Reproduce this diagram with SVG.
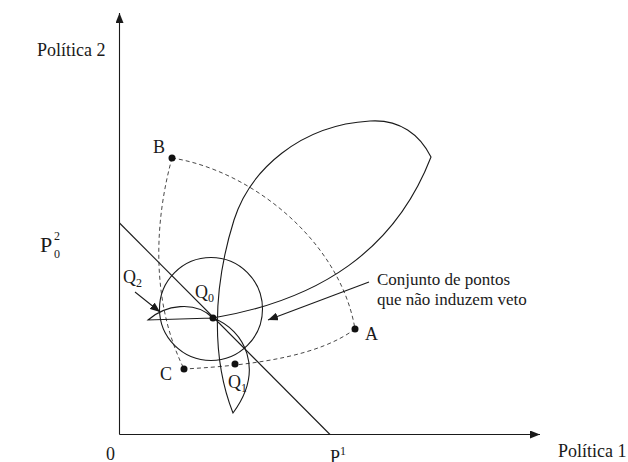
<svg xmlns="http://www.w3.org/2000/svg" width="628" height="462" viewBox="0 0 628 462">
<defs>
<marker id="ah" viewBox="0 0 10 8" refX="10" refY="4" markerWidth="10" markerHeight="8" markerUnits="userSpaceOnUse" orient="auto">
<path d="M0,0 L10,4 L0,8 Z" fill="#1a1a1a"/>
</marker>
</defs>
<style>
.ln{fill:none;stroke:#1a1a1a;stroke-width:1.1}
.ds{fill:none;stroke:#333;stroke-width:0.9;stroke-dasharray:4 3}
.t{font-family:"Liberation Serif","Times New Roman",serif;fill:#1a1a1a;font-size:18px}
.s{font-size:12px}
.a{font-family:"Liberation Serif","Times New Roman",serif;fill:#1a1a1a;font-size:17px}
.dot{fill:#111}
</style>
<rect width="628" height="462" fill="#fff"/>
<g id="axes">
<line class="ln" x1="119.5" y1="434.5" x2="119.5" y2="13" marker-end="url(#ah)"/>
<line class="ln" x1="119.5" y1="434.5" x2="540" y2="434.5" marker-end="url(#ah)"/>
<text class="t" x="37" y="56">Política 2</text>
<text class="t" x="558" y="457">Política 1</text>
<text class="t" x="106" y="460">0</text>
<text class="t" x="330" y="463">P<tspan class="s" dy="-8">1</tspan></text>
<text class="t" x="40" y="252" style="font-size:22px">P</text>
<text class="t s" x="54" y="240">2</text>
<text class="t s" x="54" y="258">0</text>
</g>
<g id="connectors">
<line id="budget" class="ln" x1="119.5" y1="223" x2="330" y2="434.5"/>
<path class="ds" d="M172,158 C155,220 150,300 184,369"/>
<path class="ds" d="M172,158 C250,170 340,240 355,329"/>
<path class="ds" d="M355,329 C320,355 260,365 184,369"/>
<line class="ln" x1="369" y1="282" x2="268" y2="320" marker-end="url(#ah)"/>
<line class="ln" x1="135" y1="292" x2="160" y2="312" marker-end="url(#ah)"/>
</g>
<g id="veto-set">
<circle class="ln" cx="211" cy="309" r="51.5"/>
<path class="ln" d="M233,413 C212,360 212,290 234,220 C250,170 300,125 370,121 C400,119 420,135 431,157 C395,250 320,300 213,318 L148,320 C165,305 195,300 213,318 C245,330 265,370 233,413 Z"/>
</g>
<g id="Q0"><circle class="dot" cx="213" cy="318" r="3.5"/><text class="t" x="195" y="298">Q<tspan class="s" dy="4">0</tspan></text></g>
<g id="Q1"><circle class="dot" cx="235" cy="364" r="3.5"/><text class="t" x="228" y="388">Q<tspan class="s" dy="4">1</tspan></text></g>
<g id="Q2"><text class="t" x="123" y="283">Q<tspan class="s" dy="4">2</tspan></text></g>
<g id="A"><circle class="dot" cx="355" cy="329" r="3.5"/><text class="t" x="365" y="340">A</text></g>
<g id="B"><circle class="dot" cx="172" cy="158" r="3.5"/><text class="t" x="153" y="153">B</text></g>
<g id="C"><circle class="dot" cx="184" cy="369" r="3.5"/><text class="t" x="160" y="380">C</text></g>
<g id="label">
<text class="a" x="377" y="285">Conjunto de pontos</text>
<text class="a" x="377" y="305">que não induzem veto</text>
</g>
</svg>
